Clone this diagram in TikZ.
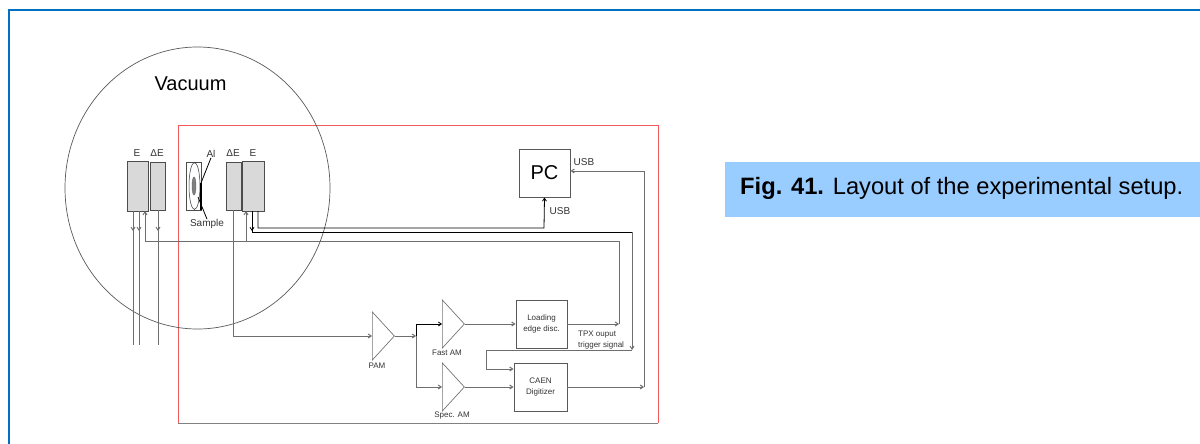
\documentclass[tikz,border=0pt]{standalone}
\usepackage{fontspec}
\setmainfont{Liberation Sans}
\definecolor{mlblue}{RGB}{0,112,192}
\definecolor{mlsky}{RGB}{153,204,255}
\definecolor{mlframe}{RGB}{245,90,90}
\definecolor{mlwire}{RGB}{110,110,110}
\definecolor{mlfill}{RGB}{217,217,217}
\usetikzlibrary{arrows.meta,shapes.geometric}
\tikzset{
  detbox/.style={draw=black!70, fill=mlfill, line width=0.8pt, inner sep=0pt,
                 minimum width=#1},
  elbox/.style={draw=black!65, fill=white, line width=0.9pt, inner sep=0pt, align=center,
                font=\fontsize{8}{10.5}\selectfont, text=black!80},
  amp/.style={draw=black!55, line width=0.7pt, isosceles triangle, isosceles triangle stretches,
              inner sep=0pt, minimum width=48pt, minimum height=22pt, anchor=lower side},
  lbl/.style={font=\fontsize{#1}{#1}\selectfont, text=black!80, inner sep=0pt},
  wire/.style={draw=mlwire, line width=1pt},
  wirek/.style={draw=black, line width=0.8pt},
  tip/.style={-{Straight Barb[length=3pt,width=4pt]}},
}
\begin{document}
\begin{tikzpicture}[x=1pt,y=-1pt]
\useasboundingbox (0,0) rectangle (1200,444);

% --- Page frame ---
\draw[mlblue, line width=2pt] (1200,10) -- (9,10) -- (9,444);

% --- Vacuum chamber and red box ---
\draw[mlframe, line width=1pt] (658,423) -- (658,125) -- (178,125) -- (178,423);
\draw[black!50, line width=0.9pt] (178,423) -- (658,423);
\node[draw=black!65, line width=0.7pt, ellipse, inner sep=0pt, minimum width=265pt,
      minimum height=282pt] (vacuum) at (197.5,188) {};
\node[lbl=20, text=black] (vaclabel) at (190.5,83.5) {Vacuum};

% --- Detectors ---
\node[detbox=21pt, minimum height=50pt] (eL) at (137.5,186) {};
\node[detbox=15pt, minimum height=48pt] (deL) at (158,186) {};
\node[detbox=15pt, minimum height=48pt] (deR) at (233.5,186) {};
\node[detbox=22pt, minimum height=50pt] (eR) at (253,186) {};
\node[lbl=10] at (137,153) {E};
\node[lbl=10] at (157,153) {ΔE};
\node[lbl=10] at (233,153) {ΔE};
\node[lbl=10] at (253,153) {E};

% --- Sample holder ---
\node[draw=black!70, fill=white, line width=0.8pt, inner sep=0pt, minimum width=15pt,
      minimum height=48pt] (holder) at (194,186) {};
\node[draw=black!80, ellipse, line width=0.5pt, inner sep=0pt, minimum width=11pt,
      minimum height=47pt] (disc) at (194.5,186) {};
\node[draw=black!60, fill=black!50, ellipse, inner sep=0pt, minimum width=4pt,
      minimum height=18pt] (spot) at (194,186) {};
\node[lbl=10] (allabel) at (211,154) {Al};
\node[lbl=10] (samplabel) at (207,224) {Sample};
\draw[black, line width=0.8pt] (allabel.south) -- (201,183);
\draw[black, line width=0.8pt] (198,197) -- (samplabel.north);
\draw[black, line width=1.2pt] (201,183) -- (201,210);

% --- Electronics ---
\node[draw=black!65, fill=white, line width=1pt, inner sep=0pt, minimum width=51pt,
      minimum height=48pt, font=\fontsize{20}{20}\selectfont] (pc) at (544.5,173) {PC};
\node[amp] (pam) at (372,336) {};
\node[amp] (fastam) at (442,324) {};
\node[amp] (specam) at (442,387) {};
\node[elbox, minimum width=51pt, minimum height=48pt] (disc2) at (541.5,324) {Loading\\edge disc.};
\node[elbox, minimum width=53pt, minimum height=48pt] (caen) at (540.5,387) {CAEN\\Digitizer};
\node[lbl=8] at (377,366) {PAM};
\node[lbl=8] at (447,353) {Fast AM};
\node[lbl=8] at (452,416) {Spec. AM};
\node[lbl=8, anchor=west] at (578,335) {TPX ouput};
\node[lbl=8, anchor=west] at (578,345) {trigger signal};
\node[lbl=10] at (584,162) {USB};
\node[lbl=10] at (560,211) {USB};

% --- Wires to outside ---
\coordinate (outA) at (133,345);
\coordinate (outB) at (139,345);
\coordinate (outC) at (158,345);
\draw[wire] (133,211) -- (outA);
\draw[wire] (139,211) -- (outB);
\draw[wire] (deL.south) -- (outC);
\draw[wire, tip] (133,224) -- (133,231);
\draw[wire, tip] (139,224) -- (139,231);
\draw[wire, tip] (158,224) -- (158,231);

% --- Signal paths ---
\draw[wire, tip] (deR.south) |- (pam.lower side);
\draw[wire, tip] (pam.apex) -- (416,336);
\draw[wirek, tip] (416,336) |- (fastam.lower side);
\draw[wire, tip] (416,336) |- (specam.lower side);
\draw[wire, tip] (fastam.apex) -- (disc2.west);
\draw[wire, tip] (specam.apex) -- (caen.west);
\draw[wire, tip] (disc2.east) -- (619,324);
\draw[wire, tip] (caen.east) -- (644,387);
\draw[wire, tip] (644,387) -- (644,171) -- (pc.east |- 0,171);
\draw[wirek, tip] (258,211) |- (544,228) -- (pc.south);
\draw[wirek] (252,211) |- (632,232);
\draw[wirek, tip] (252,224) -- (252,231);
\draw[wire, tip] (632,232) -- (632,350);
\draw[wire, tip] (632,350) -- (486,350) -- (486,369) -- (caen.west |- 0,369);
\draw[wire] (619,324) -- (619,241.5) -- (145,241.5);
\draw[wire, tip] (145,241.5) -- (145,211);
\draw[wire, tip] (246,241.5) -- (246,211);

% --- Caption ---
\node[fill=mlsky, anchor=north west, minimum width=475pt, minimum height=55pt, inner sep=0pt] (capbox)
      at (725,162) {};
\node[font=\fontsize{23.7}{23.7}\selectfont, anchor=base west, inner sep=0pt] (caption) at (740,194)
      {\textbf{Fig. 41.} Layout of the experimental setup.};

\end{tikzpicture}
\end{document}
